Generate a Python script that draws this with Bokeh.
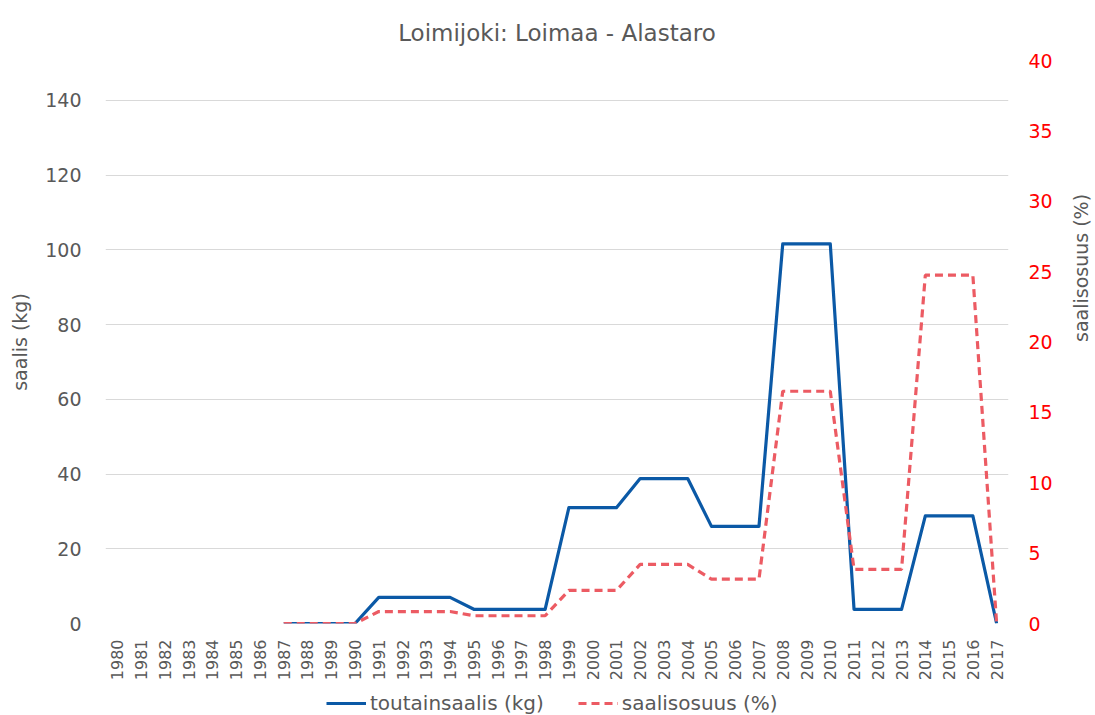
import math
import numpy as np
from bokeh.plotting import figure
from bokeh.layouts import column
from bokeh.models import (Range1d, LinearAxis, FactorRange, ColumnDataSource,
                          Legend, LegendItem, FixedTicker)
from bokeh.embed import file_html
from bokeh.resources import INLINE

years = [str(y) for y in range(1980, 2018)]
catch_kg = [np.nan] * 7 + [0, 0, 0, 0,
                           7.0, 7.0, 7.0, 7.0,
                           3.8, 3.8, 3.8, 3.8,
                           31, 31, 31,
                           38.8, 38.8, 38.8,
                           26, 26, 26,
                           101.6, 101.6, 101.6,
                           3.8, 3.8, 3.8,
                           28.8, 28.8, 28.8,
                           0]
share_pct = [np.nan] * 7 + [0, 0, 0, 0,
                            0.85, 0.85, 0.85, 0.85,
                            0.55, 0.55, 0.55, 0.55,
                            2.35, 2.35, 2.35,
                            4.2, 4.2, 4.2,
                            3.15, 3.15, 3.15,
                            16.5, 16.5, 16.5,
                            3.85, 3.85, 3.85,
                            24.75, 24.75, 24.75,
                            0]
left_ticks = [0, 20, 40, 60, 80, 100, 120, 140]
right_ticks = [0, 5, 10, 15, 20, 25, 30, 35, 40]
series_names = ["toutainsaalis (kg)", "saalisosuus (%)"]

FONT = "DejaVu Sans"
GRAY = "#595959"
BLUE = "#0b59a6"
RED = "#ec5b63"
W = 1090

src = ColumnDataSource(dict(year=years, kg=catch_kg, pct=share_pct))

p = figure(x_range=FactorRange(*years, range_padding=0),
           y_range=Range1d(0, 150.7),
           frame_width=903, frame_height=563,
           output_backend="svg", toolbar_location=None,
           min_border_left=105, min_border_right=W - 105 - 903,
           min_border_top=60, min_border_bottom=66)
p.extra_y_ranges = {"pct": Range1d(0, 40)}

p.title.text = "Loimijoki: Loimaa - Alastaro"
p.title.align = "center"
p.title.offset = -6
p.title.text_font = FONT
p.title.text_font_size = "23px"
p.title.text_font_style = "normal"
p.title.text_color = GRAY
p.title.standoff = 30

p.outline_line_color = None
p.background_fill_color = "white"
p.border_fill_color = "white"

# left axis
ya = p.yaxis[0]
ya.ticker = FixedTicker(ticks=left_ticks)
ya.axis_label = "saalis (kg)"
ya.axis_label_text_font = FONT
ya.axis_label_text_font_size = "19px"
ya.axis_label_text_font_style = "normal"
ya.axis_label_text_color = GRAY
ya.axis_label_standoff = 11
ya.major_label_text_font = FONT
ya.major_label_text_font_size = "19px"
ya.major_label_text_color = GRAY
ya.major_label_standoff = 18
ya.axis_line_color = None
ya.major_tick_line_color = None
ya.minor_tick_line_color = None

# right axis
ra = LinearAxis(y_range_name="pct", ticker=FixedTicker(ticks=right_ticks))
ra.axis_label = "saalisosuus (%)"
ra.axis_label_orientation = math.pi / 2
ra.axis_label_text_font = FONT
ra.axis_label_text_font_size = "19px"
ra.axis_label_text_font_style = "normal"
ra.axis_label_text_color = GRAY
ra.axis_label_standoff = 25
ra.major_label_text_font = FONT
ra.major_label_text_font_size = "19px"
ra.major_label_text_color = "#ff0000"
ra.major_label_standoff = 14
ra.axis_line_color = None
ra.major_tick_line_color = None
ra.minor_tick_line_color = None
p.add_layout(ra, "right")

# x axis
xa = p.xaxis[0]
xa.major_label_orientation = math.pi / 2
xa.major_label_text_font = FONT
xa.major_label_text_font_size = "16px"
xa.major_label_text_color = GRAY
xa.major_label_standoff = 10
xa.axis_line_color = None
xa.major_tick_line_color = None
xa.minor_tick_line_color = None

p.xgrid.grid_line_color = None
p.ygrid.ticker = FixedTicker(ticks=left_ticks)
p.ygrid.grid_line_color = "#d9d9d9"
p.ygrid.grid_line_width = 1

p.line("year", "kg", source=src, line_color=BLUE, line_width=3.2,
       line_join="round")
p.line("year", "pct", source=src, y_range_name="pct",
       line_color=RED, line_width=3.2, line_dash="8 5")

# legend strip below the chart (proxy renderers kept outside the visible range)
lg = figure(width=W, height=26, x_range=(0, 1), y_range=(0, 1),
            output_backend="svg", toolbar_location=None, min_border=0)
lg.axis.visible = False
lg.grid.grid_line_color = None
lg.outline_line_color = None
proxy = ColumnDataSource(dict(x=[-10, -9], y=[-10, -10]))
d1 = lg.line("x", "y", source=proxy, line_color=BLUE, line_width=3.2)
d2 = lg.line("x", "y", source=proxy, line_color=RED, line_width=3.2,
             line_dash="8 5")
legend = Legend(items=[LegendItem(label=series_names[0], renderers=[d1]),
                       LegendItem(label=series_names[1], renderers=[d2])],
                orientation="horizontal", location=(221, 0))
legend.label_text_font = FONT
legend.label_text_font_size = "20px"
legend.label_text_color = GRAY
legend.glyph_width = 40
legend.glyph_height = 20
legend.label_height = 20
legend.label_standoff = 4
legend.spacing = 34
legend.padding = 2
legend.margin = 0
legend.border_line_color = None
legend.background_fill_alpha = 0
lg.add_layout(legend, "center")

layout = column(p, lg, spacing=0)
open("out.html", "w").write(file_html(layout, INLINE))
